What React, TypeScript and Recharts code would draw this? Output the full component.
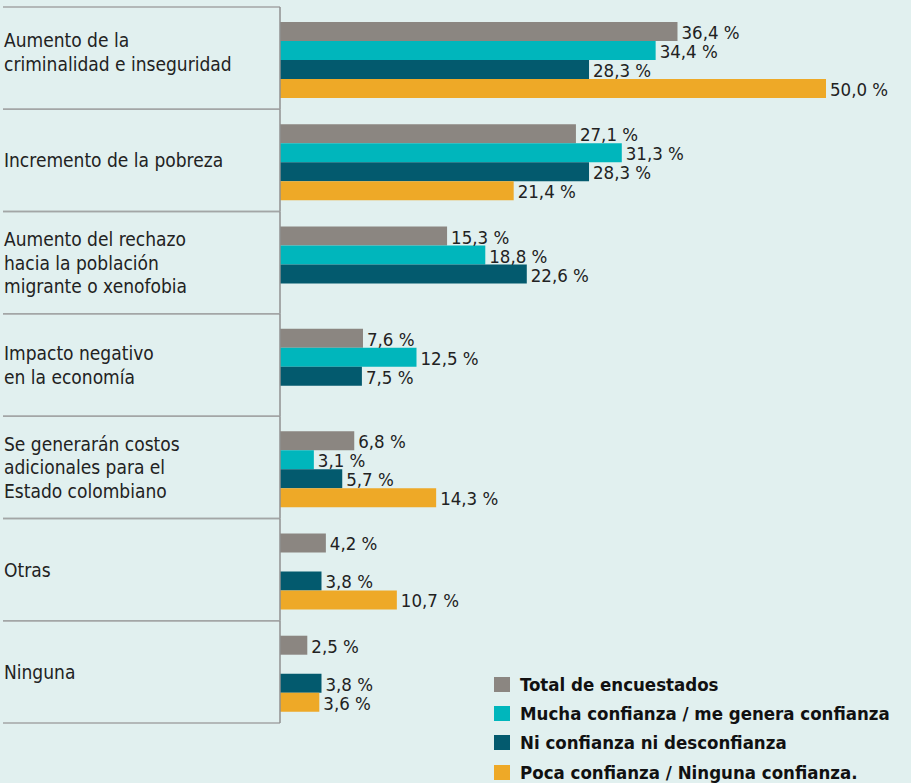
import { BarChart, Bar, XAxis, YAxis, LabelList } from "recharts";

const categories = [
  "Aumento de la\ncriminalidad e inseguridad",
  "Incremento de la pobreza",
  "Aumento del rechazo\nhacia la población\nmigrante o xenofobia",
  "Impacto negativo\nen la economía",
  "Se generarán costos\nadicionales para el\nEstado colombiano",
  "Otras",
  "Ninguna",
];

const total = [36.4, 27.1, 15.3, 7.6, 6.8, 4.2, 2.5];
const mucha = [34.4, 31.3, 18.8, 12.5, 3.1, null, null];
const ni = [28.3, 28.3, 22.6, 7.5, 5.7, 3.8, 3.8];
const poca = [50.0, 21.4, null, null, 14.3, 10.7, 3.6];

const seriesNames = [
  "Total de encuestados",
  "Mucha confianza / me genera confianza",
  "Ni confianza ni desconfianza",
  "Poca confianza / Ninguna confianza.",
];

const COLORS = ["#8b8681", "#00b6bc", "#035a6e", "#eea927"];
const BG = "#e1f0ef";
const FONT = "'Liberation Sans Narrow', 'DejaVu Sans Condensed', 'Arial Narrow', sans-serif";

const W = 911;
const H = 783;
const TOP = 9;
const BOTTOM = 58;
const BAND = (H - TOP - BOTTOM) / categories.length;
const SHIFT = -2; // separators sit slightly above the bar bands

const data = categories.map((name, i) => ({
  name,
  total: total[i],
  mucha: mucha[i],
  ni: ni[i],
  poca: poca[i],
}));

function CategoryTick(props: any) {
  const { y, payload } = props;
  const lines = String(payload.value).split("\n");
  const lh = 23.5;
  // first block sits a bit higher in the original
  const nudge = payload.index === 0 ? -8 : -2;
  const start = y - ((lines.length - 1) * lh) / 2 + nudge;
  const top = y - BAND / 2 + SHIFT;
  const bot = y + BAND / 2 + SHIFT;
  return (
    <g>
      <line x1={3} x2={280} y1={top} y2={top} stroke="#a3a6a6" strokeWidth={1.5} />
      <line x1={3} x2={280} y1={bot} y2={bot} stroke="#a3a6a6" strokeWidth={1.5} />
      <line x1={280} x2={280} y1={top} y2={bot} stroke="#8f9191" strokeWidth={1.5} />
      {lines.map((l, i) => (
        <text
          key={i}
          x={4}
          y={start + i * lh}
          dominantBaseline="central"
          textAnchor="start"
          fontFamily={FONT}
          fontSize={19}
          fill="#222"
        >
          {l}
        </text>
      ))}
    </g>
  );
}

function ValueLabel(props: any) {
  const { x, y, width, height, value } = props;
  if (value === null || value === undefined) return null;
  return (
    <text
      x={x + width + 4}
      y={y + height / 2 + 1}
      dominantBaseline="central"
      fontFamily={FONT}
      fontSize={18.5}
      fill="#222"
    >
      {Number(value).toFixed(1).replace(".", ",") + " %"}
    </text>
  );
}

export default function App() {
  const keys = ["total", "mucha", "ni", "poca"];
  return (
    <div style={{ position: "absolute", left: 0, top: 0, width: W, height: H, background: BG }}>
      <BarChart
        width={W}
        height={H}
        data={data}
        layout="vertical"
        margin={{ top: TOP, right: 85, bottom: BOTTOM, left: 0 }}
        barCategoryGap={13}
        barGap={0}
      >
        <XAxis type="number" domain={[0, 50]} hide />
        <YAxis
          type="category"
          dataKey="name"
          width={280}
          tick={<CategoryTick />}
          tickLine={false}
          axisLine={false}
          interval={0}
        />
        {keys.map((k, i) => (
          <Bar key={k} dataKey={k} fill={COLORS[i]} isAnimationActive={false}>
            <LabelList dataKey={k} content={<ValueLabel />} />
          </Bar>
        ))}
      </BarChart>
      <div style={{ position: "absolute", left: 494, top: 670, fontFamily: FONT }}>
        {seriesNames.map((n, i) => (
          <div key={n} style={{ display: "flex", alignItems: "center", height: 29.2 }}>
            <div style={{ width: 16, height: 15, background: COLORS[i], marginRight: 10 }} />
            <span style={{ fontWeight: "bold", fontSize: 18.5, color: "#111" }}>{n}</span>
          </div>
        ))}
      </div>
    </div>
  );
}
